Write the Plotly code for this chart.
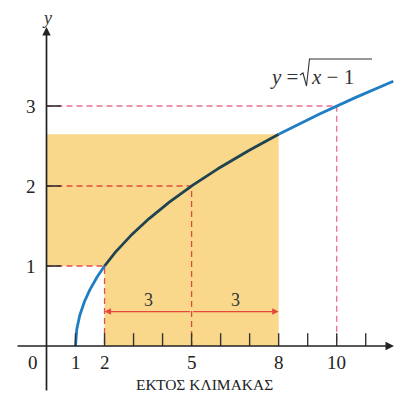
import numpy as np
import plotly.graph_objects as go

# ---- data ----
x_ticks = [1, 2, 3, 4, 5, 6, 7, 8, 9, 10, 11]
x_tick_labels = {0: "0", 1: "1", 2: "2", 5: "5", 8: "8", 10: "10"}
y_ticks = [1, 2, 3]
guide_x = [2, 5, 10]          # points on the curve with dashed guides
guide_y = [1, 2, 3]
guide_colors = ["#E2504A", "#E2483E", "#E8708E"]
shade_left = 0
shade_mid = 2
shade_right = 8
shade_top = np.sqrt(7)
arrow_from = 5
arrow_to = [2, 8]
arrow_labels = ["3", "3"]
arrow_y = 0.43
curve_start, curve_end = 1, 11.95

def f(x):
    return np.sqrt(x - 1)

BLUE = "#1F7DC4"
DARK = "#1F4450"
SHADE = "#F9D88C"
FONT = "Liberation Serif"

# screen-pixel helpers (page has 8px body margin)
SX, X0 = 29.02, 46.5
SY, Y0 = 80.0, 346.0
def px(p):
    return (p - X0) / SX
def py(p):
    return (Y0 - p) / SY

fig = go.Figure()

# shaded region (polygon)
sx = [shade_mid, shade_right, shade_right, shade_left, shade_left, shade_mid, shade_mid]
sy = [0, 0, shade_top, shade_top, 1, 1, 0]
fig.add_trace(go.Scatter(x=sx, y=sy, fill="toself", fillcolor=SHADE,
                         line=dict(width=0), mode="lines", hoverinfo="skip"))

# dashed guides
for gx, gy, c in zip(guide_x, guide_y, guide_colors):
    fig.add_trace(go.Scatter(x=[0, gx, gx], y=[gy, gy, 0], mode="lines",
                             line=dict(color=c, width=1.3, dash="6px,4px"), hoverinfo="skip"))

# curve segments
segs = [(curve_start, shade_mid, BLUE), (shade_mid, shade_right, DARK), (shade_right, curve_end, BLUE)]
for a, b, c in segs:
    xs = np.linspace(a, b, 200)
    fig.add_trace(go.Scatter(x=xs, y=f(xs), mode="lines",
                             line=dict(color=c, width=2.8), hoverinfo="skip"))

shapes = []
# x ticks (upward)
for t in x_ticks:
    shapes.append(dict(type="line", x0=t, x1=t, y0=0, y1=0.16, xref="x", yref="y",
                       line=dict(color="#333", width=1.4)))
# y ticks (rightward)
for t in y_ticks:
    shapes.append(dict(type="line", x0=0, x1=0.5, y0=t, y1=t, xref="x", yref="y",
                       line=dict(color="#333", width=1.6)))
# radical sign with overline
rad = [(300, 75), (303, 73), (306.5, 86), (309.5, 59), (372, 59)]
path = "M " + " L ".join(f"{px(a):.4f},{py(b):.4f}" for a, b in rad)
shapes.append(dict(type="path", path=path, xref="x", yref="y",
                   line=dict(color="#333", width=1.1)))

annotations = []
# axes with arrows
annotations.append(dict(x=px(394), y=0, ax=-1.05, ay=0, xref="x", yref="y", axref="x", ayref="y",
                        showarrow=True, arrowhead=2, arrowsize=1, arrowwidth=1.7,
                        arrowcolor="#222", text=""))
annotations.append(dict(x=0, y=py(27), ax=0, ay=py(392), xref="x", yref="y", axref="x", ayref="y",
                        showarrow=True, arrowhead=2, arrowsize=1, arrowwidth=1.7,
                        arrowcolor="#222", text=""))
# distance arrows
for t in arrow_to:
    annotations.append(dict(x=t, y=arrow_y, ax=arrow_from, ay=arrow_y, xref="x", yref="y",
                            axref="x", ayref="y", showarrow=True, arrowhead=2, arrowsize=1,
                            arrowwidth=1.3, arrowcolor="#E2483E", text=""))
for t, lab in zip(arrow_to, arrow_labels):
    annotations.append(dict(x=(t + arrow_from) / 2, y=py(300), text=lab, showarrow=False,
                            font=dict(family=FONT, size=18, color="#333")))
# tick labels
for v, lab in x_tick_labels.items():
    xx = px(33) if v == 0 else v
    annotations.append(dict(x=xx, y=py(362), text=lab, showarrow=False,
                            font=dict(family=FONT, size=19, color="#222")))
for v in y_ticks:
    annotations.append(dict(x=px(31), y=v, text=str(v), showarrow=False,
                            font=dict(family=FONT, size=19, color="#222")))
# axis names
annotations.append(dict(x=0, y=py(18), text="<i>y</i>", showarrow=False,
                        font=dict(family=FONT, size=18, color="#333")))
annotations.append(dict(x=px(397), y=py(346), text="<i>x</i>", showarrow=False, xanchor="left",
                        font=dict(family=FONT, size=19, color="#333")))
# formula
annotations.append(dict(x=px(300), y=py(77), text="<i>y</i> =", showarrow=False, xanchor="right",
                        font=dict(family=FONT, size=21, color="#333")))
annotations.append(dict(x=px(309), y=py(77), text="<i>x</i> − 1", showarrow=False, xanchor="left",
                        font=dict(family=FONT, size=21, color="#333")))
# footer
annotations.append(dict(x=px(204), y=py(384), text="ΕΚΤΟΣ ΚΛΙΜΑΚΑΣ", showarrow=False,
                        font=dict(family=FONT, size=15.5, color="#222")))

fig.update_layout(
    width=402, height=397, margin=dict(l=0, r=0, t=0, b=0),
    paper_bgcolor="white", plot_bgcolor="white", showlegend=False,
    xaxis=dict(range=[px(8), px(410)], visible=False, fixedrange=True),
    yaxis=dict(range=[py(405), py(8)], visible=False, fixedrange=True),
    shapes=shapes, annotations=annotations,
)

fig.write_html("out.html")
